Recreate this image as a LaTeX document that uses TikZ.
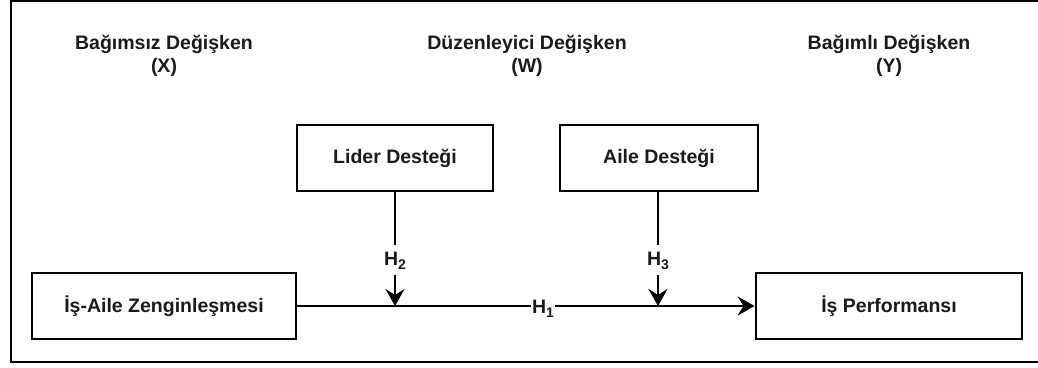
\documentclass[tikz,border=0pt]{standalone}
\usepackage{fontspec}
\setmainfont{Liberation Sans}
\usetikzlibrary{arrows.meta,calc}
\definecolor{ink}{HTML}{1A1A1A}
\newcommand{\hsub}[1]{H\raisebox{-4.5pt}{\fontsize{14}{14}\selectfont #1}}
\begin{document}
\begin{tikzpicture}[x=1pt,y=-1pt,
  lbl/.style={font=\fontsize{19.5}{23}\selectfont\bfseries, text=ink, align=center, inner sep=0pt},
  varbox/.style={draw=black, line width=2.8pt, fill=white, font=\fontsize{19.5}{23}\selectfont\bfseries, text=ink, inner sep=0pt},
  conn/.style={line width=2.8pt, draw=black},
  arr/.style={conn, -{Stealth[length=17pt,width=19pt,inset=6pt]}}
]
\useasboundingbox (0,0) rectangle (1038,367);
\begin{scope}
\clip (0,0) rectangle (1038,367);
\draw[line width=2.4pt] (1045,0.8) -- (10.8,0.8) -- (10.8,362) -- (1045,362);
\end{scope}

\node[lbl] (hx) at (164,56) {Bağımsız Değişken\\(X)};
\node[lbl] (hw) at (527,56) {Düzenleyici Değişken\\(W)};
\node[lbl] (hy) at (889,56) {Bağımlı Değişken\\(Y)};

\node[varbox, minimum width=264pt, minimum height=66pt] (iv) at (164,306) {İş-Aile Zenginleşmesi};
\node[varbox, minimum width=266pt, minimum height=66pt] (dv) at (889,306) {İş Performansı};
\node[varbox, minimum width=196pt, minimum height=66pt] (m1) at (395,158) {Lider Desteği};
\node[varbox, minimum width=198pt, minimum height=66pt] (m2) at (659,158) {Aile Desteği};

\coordinate (j1) at (395,306);
\coordinate (j2) at (658,306);

\node[lbl, fill=white, inner xsep=1pt, anchor=base] (h1) at (543,313) {\hsub{1}};
\node[lbl, anchor=base] (h2) at (395,265) {\hsub{2}};
\node[lbl, anchor=base] (h3) at (658,265) {\hsub{3}};

\draw[conn] (iv.east) -- (h1.west |- iv.east);
\draw[arr] (h1.east |- dv.west) -- (dv.west);
\draw[conn] (m1.south) -- ($(h2.north)+(0,-6)$);
\draw[arr] ($(h2.south)+(0,5)$) -- (j1);
\draw[conn] (m2.south -| j2) -- ($(h3.north)+(0,-6)$);
\draw[arr] ($(h3.south)+(0,5)$) -- (j2);
\end{tikzpicture}
\end{document}
